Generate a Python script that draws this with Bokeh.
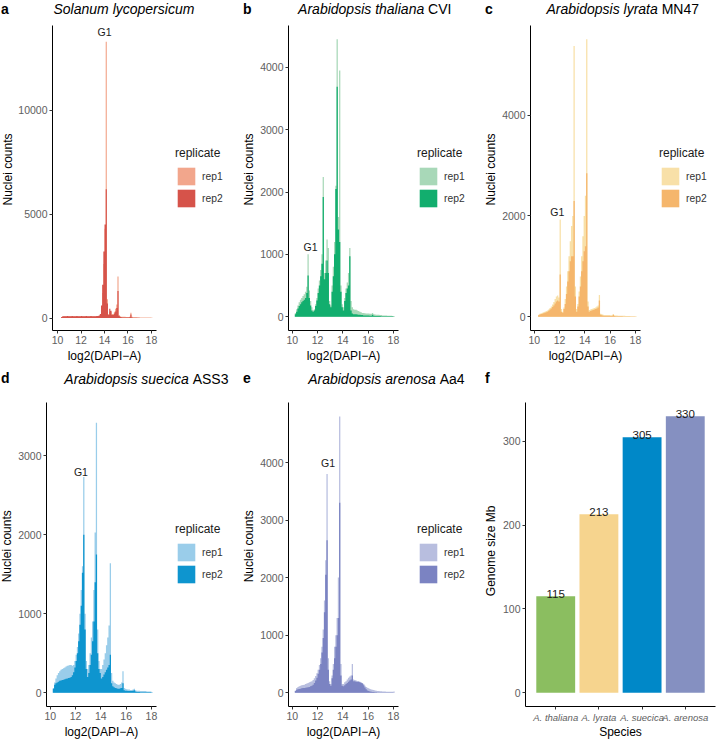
import math
from bokeh.plotting import figure
from bokeh.models import (Range1d, FactorRange, Legend, LegendItem, Label,
                          FixedTicker, ColumnDataSource)
from bokeh.layouts import row, column
from bokeh.embed import file_html
from bokeh.resources import INLINE
from bokeh.core.properties import value

FONT = "Liberation Sans"

# ---------------- data ----------------
# histogram bins of log2(DAPI-A): left edges 10.2, 10.3, ... 18.0, width 0.1
BIN_START = 10.2
BIN_WIDTH = 0.1
N_BINS = 79
x_ticks = [10, 12, 14, 16, 18]
replicates = ["rep1", "rep2"]

# a  Solanum lycopersicum
sol_rep1 = [0, 40, 60, 70, 70, 70, 70, 70,
            70, 70, 70, 70, 70, 70, 70, 70, 70, 70,
            70, 70, 70, 70, 70, 70, 70, 70, 70, 70,
            70, 70, 70, 80, 80, 90, 150, 400, 1200, 2600,
            4300, 13300, 900, 200, 300, 300, 200, 200, 300, 450,
            650, 2000, 150, 80, 60, 60, 60, 60, 50, 50,
            50, 60, 250, 60, 40, 40, 40, 35, 30, 30,
            30, 30, 30, 30, 30, 25, 25, 25, 20, 20,
            15]
sol_rep2 = [0, 50, 80, 90, 85, 90, 95, 90,
            85, 90, 95, 90, 85, 90, 95, 90, 85, 90,
            95, 90, 85, 90, 95, 90, 85, 90, 95, 90,
            90, 90, 90, 100, 100, 120, 200, 600, 1600, 3200,
            4500, 6200, 700, 150, 450, 350, 150, 150, 220, 320,
            480, 1300, 100, 50, 40, 30, 30, 30, 30, 30,
            30, 40, 170, 30, 15, 10, 10, 10, 10, 10,
            5, 5, 5, 5, 5, 5, 5, 5, 5, 5,
            0]

# b  Arabidopsis thaliana CVI
tha_rep1 = [60, 120, 180, 230, 270, 300, 330, 360,
            400, 480, 1000, 420, 250, 150, 100, 120, 200, 300,
            450, 580, 750, 1000, 2240, 700, 900, 1240, 1100, 250,
            180, 500, 800, 1200, 2100, 4450, 1600, 3950, 500, 200,
            150, 300, 450, 550, 700, 1100, 250, 150, 120, 110,
            110, 100, 90, 80, 70, 60, 60, 55, 50, 50,
            50, 45, 45, 60, 40, 35, 30, 30, 30, 25,
            25, 20, 20, 20, 20, 15, 15, 15, 15, 10,
            10]
tha_rep2 = [40, 80, 130, 170, 200, 230, 250, 270,
            300, 380, 660, 300, 180, 100, 80, 100, 170, 260,
            380, 500, 650, 850, 1920, 600, 700, 900, 700, 200,
            150, 400, 650, 1000, 2050, 3690, 1400, 1200, 400, 150,
            100, 250, 380, 450, 500, 970, 100, 50, 40, 40,
            40, 35, 30, 30, 25, 25, 20, 20, 20, 20,
            20, 15, 15, 30, 15, 10, 10, 10, 10, 10,
            5, 5, 5, 5, 5, 5, 5, 5, 5, 5,
            0]

# c  Arabidopsis lyrata MN47
lyr_rep1 = [0, 40, 60, 70, 80, 90, 100, 110,
            120, 140, 170, 200, 240, 290, 350, 400, 420, 380,
            1930, 150, 100, 180, 350, 600, 900, 1200, 1500, 1800,
            2000, 5380, 600, 150, 250, 500, 800, 1200, 1600, 2000,
            2400, 5510, 300, 130, 140, 150, 160, 170, 180, 200,
            220, 430, 60, 50, 40, 30, 30, 30, 30, 30,
            30, 30, 50, 30, 25, 25, 20, 20, 20, 20,
            20, 20, 15, 15, 15, 15, 10, 10, 10, 10,
            10]
lyr_rep2 = [0, 30, 45, 55, 60, 70, 80, 90,
            100, 115, 140, 160, 190, 220, 260, 300, 320, 300,
            840, 100, 80, 150, 250, 450, 700, 900, 1100, 1200,
            1200, 2300, 400, 100, 200, 400, 600, 900, 1100, 1300,
            1400, 2850, 200, 100, 110, 120, 130, 140, 150, 160,
            180, 320, 40, 30, 20, 20, 20, 20, 20, 20,
            15, 15, 40, 15, 10, 10, 10, 10, 10, 10,
            5, 5, 5, 5, 5, 5, 5, 5, 5, 5,
            0]

# d  Arabidopsis suecica ASS3
sue_rep1 = [60, 130, 180, 220, 250, 270, 290, 300,
            310, 320, 330, 340, 345, 350, 350, 340, 350, 400,
            480, 580, 750, 1000, 1300, 1600, 2730, 1000, 400, 300,
            350, 500, 700, 900, 1300, 2030, 3420, 800, 400, 300,
            300, 350, 420, 500, 600, 700, 850, 1640, 250, 150,
            130, 120, 110, 100, 100, 110, 130, 270, 60, 50,
            45, 40, 40, 35, 35, 40, 50, 30, 25, 25,
            25, 20, 20, 20, 20, 20, 15, 15, 15, 15,
            10]
sue_rep2 = [50, 100, 120, 130, 140, 150, 155, 160,
            165, 170, 175, 180, 185, 190, 200, 220, 260, 320,
            400, 500, 650, 860, 1100, 1520, 2000, 800, 300, 200,
            250, 350, 480, 650, 900, 1400, 1750, 500, 300, 250,
            180, 200, 230, 260, 290, 320, 350, 480, 120, 80,
            70, 60, 55, 50, 50, 55, 60, 120, 30, 25,
            25, 20, 20, 20, 20, 25, 30, 15, 10, 10,
            8, 6, 5, 5, 5, 5, 5, 5, 5, 5,
            0]

# e  Arabidopsis arenosa Aa4
are_rep1 = [40, 80, 100, 110, 120, 130, 135, 140,
            150, 160, 170, 180, 190, 200, 220, 250, 290, 340,
            400, 480, 600, 800, 1100, 1600, 2300, 3800, 600, 200,
            150, 300, 500, 800, 1000, 1300, 2000, 4800, 500, 150,
            150, 180, 200, 230, 260, 280, 300, 500, 230, 220,
            210, 200, 200, 190, 180, 170, 150, 120, 100, 85,
            75, 65, 55, 50, 45, 40, 35, 30, 30, 25,
            25, 20, 20, 20, 15, 15, 15, 15, 15, 15,
            20]
are_rep2 = [30, 50, 60, 65, 70, 75, 80, 80,
            85, 90, 95, 100, 110, 120, 140, 170, 210, 260,
            330, 400, 500, 700, 950, 1400, 2050, 2650, 400, 150,
            120, 250, 400, 600, 800, 1000, 1300, 3300, 300, 120,
            110, 130, 150, 170, 190, 210, 230, 300, 200, 200,
            190, 190, 190, 180, 170, 160, 130, 90, 60, 40,
            30, 20, 15, 10, 10, 8, 6, 5, 5, 5,
            5, 5, 5, 5, 5, 5, 5, 5, 5, 5,
            0]

# f  genome sizes
species = ["A. thaliana", "A. lyrata", "A. suecica", "A. arenosa"]
genome_size_mb = [115, 213, 305, 330]
bar_colors = ["#8BBE60", "#F6D48E", "#0088C8", "#8590C1"]

for arr in (sol_rep1, sol_rep2, tha_rep1, tha_rep2, lyr_rep1, lyr_rep2,
            sue_rep1, sue_rep2, are_rep1, are_rep2):
    assert len(arr) == N_BINS, len(arr)

bin_left = [round(BIN_START + BIN_WIDTH * i, 2) for i in range(N_BINS)]
bin_right = [round(b + BIN_WIDTH, 2) for b in bin_left]

# ---------------- layout constants (px) ----------------
COL_W = [242, 242, 243]
COL_X = [0, 242, 484]
YLAB_W = 15
TOTAL_W = sum(COL_W)
TOP_STRIP_H = 25
MID_STRIP_H = 44
BOT_STRIP_H = 14
ROW1_H = 323
ROW2_H = 333
XTICK_B = 18
FIG_R = 6


def style_axes(p):
    for ax in (p.xaxis[0], p.yaxis[0]):
        ax.axis_line_color = "black"
        ax.axis_line_width = 1
        ax.major_tick_line_color = "#333333"
        ax.major_tick_line_width = 1
        ax.major_tick_in = 0
        ax.major_tick_out = 3
        ax.minor_tick_line_color = None
        ax.major_label_text_font = FONT
        ax.major_label_text_font_size = "10.5px"
        ax.major_label_text_color = "#5e5e5e"
        ax.major_label_standoff = 2
    p.xgrid.visible = False
    p.ygrid.visible = False
    p.outline_line_color = None


def strip(w, h):
    s = figure(width=w, height=h, x_range=Range1d(0, w), y_range=Range1d(h, 0),
               min_border=0, x_axis_location=None, y_axis_location=None,
               output_backend="svg", toolbar_location=None, tools="")
    for g in s.grid:
        g.visible = False
    s.outline_line_color = None
    return s


def txt(s, x, y, text, size, style="normal", align="left", angle=0.0,
        color="black"):
    s.add_layout(Label(x=x, y=y, text=text, text_font=FONT,
                       text_font_size=size, text_font_style=style,
                       text_align=align, text_baseline="middle",
                       angle=angle, text_color=color))


def ylab_strip(h, xc, yc, text):
    s = strip(YLAB_W, h)
    txt(s, xc, yc, text, "12px", align="center", angle=math.pi / 2)
    return s


def legend_strip(w, h, c1, c2):
    s = strip(w, h)
    # swatch renderers for the legend keys (placed outside the visible area)
    r1 = s.quad(left=[-30], right=[-20], top=[-30], bottom=[-20], fill_color=c1,
                line_color=None)
    r2 = s.quad(left=[-30], right=[-20], top=[-30], bottom=[-20], fill_color=c2,
                line_color=None)
    legend = Legend(items=[LegendItem(label=replicates[0], renderers=[r1]),
                           LegendItem(label=replicates[1], renderers=[r2])],
                    location=(13, 121), title="replicate",
                    title_text_font=FONT, title_text_font_size="12px",
                    title_text_font_style="normal", title_text_color="#1a1a1a",
                    title_standoff=5,
                    label_text_font=FONT, label_text_font_size="10.3px",
                    label_text_color="#333333", label_standoff=5,
                    glyph_width=22, glyph_height=22, label_height=22,
                    spacing=-2, padding=0, margin=0,
                    border_line_color=None, background_fill_alpha=0)
    s.add_layout(legend)
    return s


def hist_fig(col_w, rep1, rep2, c1, c2, xr, yr, yt, g1, L, FW, FH, H):
    W = L + FW + FIG_R
    p = figure(width=W, height=H, min_border_left=L, min_border_right=FIG_R,
               min_border_top=H - FH - XTICK_B, min_border_bottom=XTICK_B,
               x_range=Range1d(*xr), y_range=Range1d(*yr),
               output_backend="svg", toolbar_location=None, tools="")
    for counts, col in ((rep1, c1), (rep2, c2)):
        xs, ys = [], []
        for l, r, c in zip(bin_left, bin_right, counts):
            xs += [l, r]
            ys += [c, c]
        p.varea(x=xs, y1=0, y2=ys, fill_color=col)
    style_axes(p)
    p.xaxis.ticker = FixedTicker(ticks=x_ticks)
    p.yaxis.ticker = FixedTicker(ticks=yt)
    p.add_layout(Label(x=g1[0], y=g1[1], text="G1", text_font=FONT,
                       text_font_size="10.5px", text_align="center",
                       text_baseline="middle", text_color="#1a1a1a"))
    leg = legend_strip(col_w - YLAB_W - W, H, c1, c2)
    return p, leg


pa, la = hist_fig(COL_W[0], sol_rep1, sol_rep2, "#F2A68C", "#D6534A",
                  (9.57, 18.43), (-600, 14080), [0, 5000, 10000],
                  (14.0, 13780), 37, 104, 305, ROW1_H)
pb, lb = hist_fig(COL_W[1], tha_rep1, tha_rep2, "#A8D8B8", "#12AE6E",
                  (9.70, 18.40), (-222, 4672), [0, 1000, 2000, 3000, 4000],
                  (11.45, 1120), 31, 110, 305, ROW1_H)
pc, lc = hist_fig(COL_W[2], lyr_rep1, lyr_rep2, "#F8E0A8", "#F5B66C",
                  (9.70, 18.40), (-275, 5785), [0, 2000, 4000],
                  (11.82, 2070), 31, 110, 305, ROW1_H)
pd, ld = hist_fig(COL_W[0], sue_rep1, sue_rep2, "#9ACDEA", "#0E95CF",
                  (9.70, 18.40), (-175, 3675), [0, 1000, 2000, 3000],
                  (12.42, 2795), 31, 110, 315, ROW2_H)
pe, le = hist_fig(COL_W[1], are_rep1, are_rep2, "#B8BEDF", "#7B83C2",
                  (9.70, 18.40), (-240, 5043), [0, 1000, 2000, 3000, 4000],
                  (12.83, 3997), 31, 110, 315, ROW2_H)

# ---------------- panel f ----------------
fW = COL_W[2] - YLAB_W
fL, fFW, fT, fFH = 26, 190, 10, 305
pf = figure(width=fW, height=ROW2_H, min_border_left=fL,
            min_border_right=fW - fL - fFW, min_border_top=fT,
            min_border_bottom=ROW2_H - fT - fFH,
            x_range=FactorRange(*species, range_padding=0.2,
                                range_padding_units="absolute"),
            y_range=Range1d(-16.5, 346.5),
            output_backend="svg", toolbar_location=None, tools="")
src_f = ColumnDataSource(dict(sp=species, size=genome_size_mb, color=bar_colors,
                              lab=[str(v) for v in genome_size_mb]))
pf.vbar(x="sp", top="size", bottom=0, width=0.9, fill_color="color",
        line_color=None, source=src_f)
pf.text(x="sp", y="size", text="lab", source=src_f, text_align="center",
        text_baseline="alphabetic", y_offset=-2, text_font=value(FONT),
        text_font_size=value("11.5px"), text_color="#1a1a1a")
style_axes(pf)
pf.yaxis.ticker = FixedTicker(ticks=[0, 100, 200, 300])
pf.xaxis.major_label_text_font_style = "italic"
pf.xaxis.major_label_text_font_size = "9.5px"

# ---------------- text strips ----------------
NB = "\u00a0"
top = strip(TOTAL_W, TOP_STRIP_H)
txt(top, COL_X[0] + 0.5, 8, "a", "14px", "bold")
txt(top, COL_X[1] + 0.5, 8, "b", "14px", "bold")
txt(top, COL_X[2] + 0.5, 8, "c", "14px", "bold")
txt(top, 53, 8, "Solanum lycopersicum", "14px", "italic")
txt(top, COL_X[1] + 181.7, 8, "Arabidopsis thaliana", "14px", "italic", "right")
txt(top, COL_X[1] + 181.7, 8, NB + "CVI", "14px")
txt(top, COL_X[2] + 173.3, 8, "Arabidopsis lyrata", "14px", "italic", "right")
txt(top, COL_X[2] + 173.3, 8, NB + "MN47", "14px")

mid = strip(TOTAL_W, MID_STRIP_H)
xlab = "log2(DAPI\u2212A)"
txt(mid, COL_X[0] + 104, 7, xlab, "12px", align="center")
txt(mid, COL_X[1] + 101, 7, xlab, "12px", align="center")
txt(mid, COL_X[2] + 101, 7, xlab, "12px", align="center")
txt(mid, COL_X[0] + 0.5, 29, "d", "14px", "bold")
txt(mid, COL_X[1] + 0.5, 29, "e", "14px", "bold")
txt(mid, COL_X[2] + 0.5, 29, "f", "14px", "bold")
txt(mid, COL_X[0] + 188.3, 30, "Arabidopsis suecica", "14px", "italic", "right")
txt(mid, COL_X[0] + 188.3, 30, NB + "ASS3", "14px")
txt(mid, COL_X[1] + 193.3, 30, "Arabidopsis arenosa", "14px", "italic", "right")
txt(mid, COL_X[1] + 193.3, 30, NB + "Aa4", "14px")

bot = strip(TOTAL_W, BOT_STRIP_H)
txt(bot, COL_X[0] + 101, 6, xlab, "12px", align="center")
txt(bot, COL_X[1] + 101, 6, xlab, "12px", align="center")
txt(bot, COL_X[2] + YLAB_W + fL + fFW / 2, 6, "Species", "12px",
    align="center")

row1 = row(ylab_strip(ROW1_H, 7, 152.5, "Nuclei counts"), pa, la,
           ylab_strip(ROW1_H, 6, 152.5, "Nuclei counts"), pb, lb,
           ylab_strip(ROW1_H, 6, 152.5, "Nuclei counts"), pc, lc)
row2 = row(ylab_strip(ROW2_H, 6, 157.5, "Nuclei counts"), pd, ld,
           ylab_strip(ROW2_H, 6, 157.5, "Nuclei counts"), pe, le,
           ylab_strip(ROW2_H, 6, 162.5, "Genome size Mb"), pf)

layout = column(top, row1, mid, row2, bot)
open("out.html", "w").write(file_html(layout, INLINE, title="flow cytometry"))
